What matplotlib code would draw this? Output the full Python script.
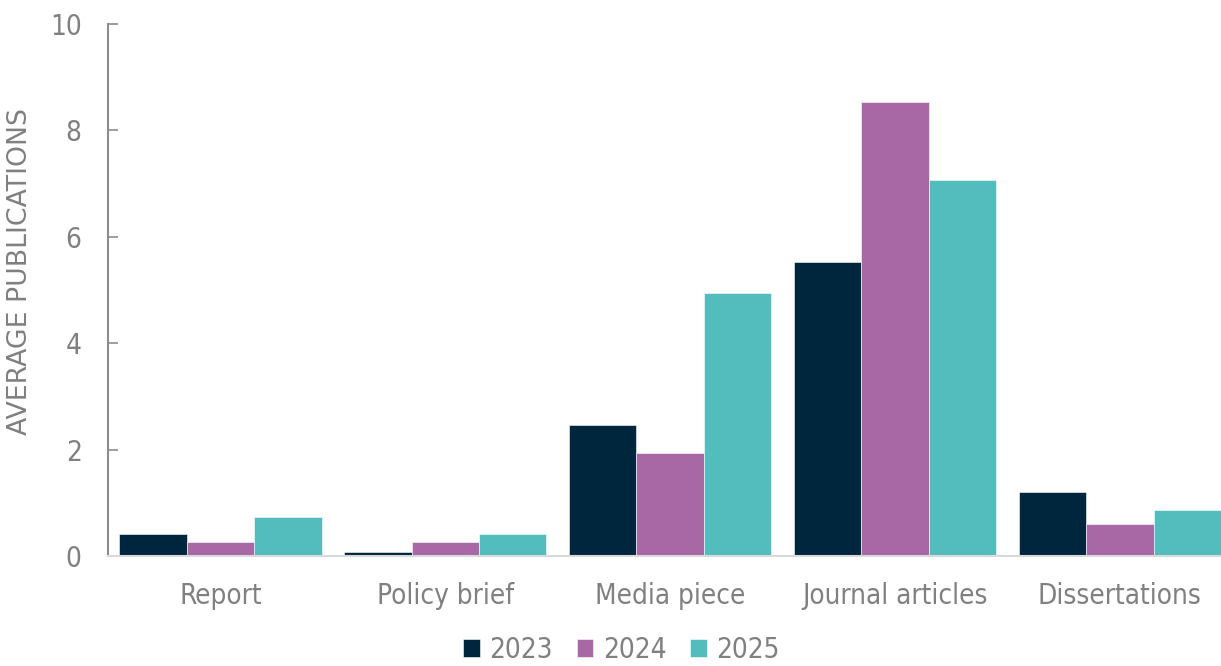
import numpy as np
import matplotlib
matplotlib.use('Agg')
import matplotlib.pyplot as plt

# data
categories = ['Report', 'Policy brief', 'Media piece', 'Journal articles', 'Dissertations']
years = ['2023', '2024', '2025']
vals_2023 = [0.41, 0.07, 2.46, 5.53, 1.20]
vals_2024 = [0.27, 0.27, 1.94, 8.53, 0.60]
vals_2025 = [0.73, 0.41, 4.94, 7.07, 0.86]
y_ticks = [0, 2, 4, 6, 8, 10]

colors = ['#00263e', '#a868a6', '#53bcbc']
grey = '#808080'

plt.rcParams['font.family'] = ['DejaVu Sans']
plt.rcParams['font.stretch'] = 'condensed'

fig = plt.figure(figsize=(12.21, 6.66), dpi=100)
ax = fig.add_axes([108 / 1221, 1 - 556 / 666, 1 - 108 / 1221, (556 - 24) / 666])

x = np.arange(len(categories))
w = 0.3
series = [vals_2023, vals_2024, vals_2025]
for i, (yr, vals) in enumerate(zip(years, series)):
    ax.bar(x + (i - 1) * w, vals, width=w, color=colors[i], label=yr,
           edgecolor='white', linewidth=0.4)

ax.set_xlim(-0.5, 4.45)
ax.set_ylim(0, 10)
ax.set_yticks(y_ticks)
ax.set_xticks(x)
ax.set_xticklabels(categories)

for s in ['top', 'right']:
    ax.spines[s].set_visible(False)
ax.spines['left'].set_color('#8c8c8c')
ax.spines['left'].set_linewidth(1.5)
ax.spines['bottom'].set_color('#d9d9d9')
ax.spines['bottom'].set_linewidth(1.5)

ax.tick_params(axis='y', direction='in', length=7, width=1.2, color='#8c8c8c',
               labelsize=20, labelcolor=grey, pad=19)
ax.tick_params(axis='x', length=0, labelsize=20, labelcolor=grey, pad=19)

ax.set_ylabel('AVERAGE PUBLICATIONS', fontsize=19.3, color=grey,
              fontstretch='normal')
ax.yaxis.set_label_coords(-0.0674, 0.534)

fig.legend(loc='lower center', bbox_to_anchor=(0.509, -0.034), ncol=3, frameon=False,
           fontsize=20, labelcolor=grey, handlelength=0.6, handleheight=0.6,
           handletextpad=0.35, columnspacing=0.85)

fig.savefig('out.png', dpi=100)
